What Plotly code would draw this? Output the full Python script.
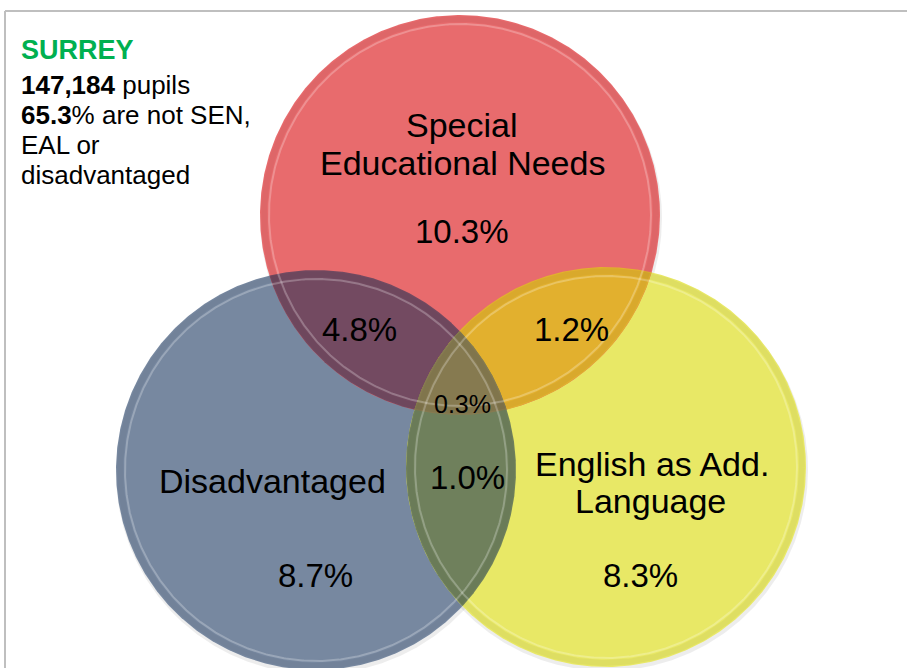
import numpy as np
import plotly.graph_objects as go

# ---- data ----
area_name = "SURREY"
total_pupils = 147184
pct_none = 65.3
set_names = ["Special Educational Needs", "Disadvantaged", "English as Add. Language"]
only_sen = 10.3
only_dis = 8.7
only_eal = 8.3
sen_dis = 4.8
sen_eal = 1.2
dis_eal = 1.0
all_three = 0.3

# ---- layout geometry (pixels) ----
W, H = 907, 668
R = 200
centers = {"sen": (460, 215), "dis": (316, 470), "eal": (606, 467)}
fill = {"sen": "#E86B6D", "dis": "#7788A0", "eal": "#E8E866"}
pair_fill = {("sen", "dis"): "#734A61", ("sen", "eal"): "#E2B02E", ("dis", "eal"): "#6F805C"}
triple_fill = "#867A50"

FONT = "Liberation Sans, Arial, sans-serif"


def circle_pts(c, r, n=720):
    t = np.linspace(0, 2 * np.pi, n)
    return c[0] + r * np.cos(t), c[1] + r * np.sin(t)


def region(keys, n=2880):
    pts = []
    for k in keys:
        cx, cy = centers[k]
        t = np.linspace(0, 2 * np.pi, n, endpoint=False)
        xs, ys = cx + R * np.cos(t), cy + R * np.sin(t)
        ok = np.ones(n, bool)
        for j in keys:
            if j == k:
                continue
            ox, oy = centers[j]
            ok &= (xs - ox) ** 2 + (ys - oy) ** 2 <= R * R + 1e-6
        pts += list(zip(xs[ok], ys[ok]))
    pts = np.array(pts)
    mx, my = pts.mean(axis=0)
    ang = np.arctan2(pts[:, 1] - my, pts[:, 0] - mx)
    pts = pts[np.argsort(ang)]
    return np.append(pts[:, 0], pts[0, 0]), np.append(pts[:, 1], pts[0, 1])


fig = go.Figure()


def add_fill(xs, ys, color, line_color=None, lw=0):
    fig.add_trace(go.Scatter(
        x=xs, y=ys, mode="lines", fill="toself", fillcolor=color,
        line=dict(width=lw, color=line_color or color),
        hoverinfo="skip", showlegend=False))


# soft shadows
for k in ["dis", "eal", "sen"]:
    c = centers[k]
    xs, ys = circle_pts((c[0] + 1, c[1] + 3), R + 1)
    add_fill(xs, ys, "rgba(0,0,0,0.07)")

# circle bodies
for k in ["dis", "eal", "sen"]:
    xs, ys = circle_pts(centers[k], R)
    add_fill(xs, ys, fill[k])

# pairwise overlaps
for (a, b), col in pair_fill.items():
    xs, ys = region([a, b])
    add_fill(xs, ys, col)

# triple overlap
xs, ys = region(["sen", "dis", "eal"])
add_fill(xs, ys, triple_fill)

# bevel rims
for k in ["dis", "eal", "sen"]:
    xs, ys = circle_pts(centers[k], R - 4)
    fig.add_trace(go.Scatter(x=xs, y=ys, mode="lines",
                             line=dict(width=6, color="rgba(0,0,0,0.04)"),
                             hoverinfo="skip", showlegend=False))
    xs, ys = circle_pts(centers[k], R - 9)
    fig.add_trace(go.Scatter(x=xs, y=ys, mode="lines",
                             line=dict(width=2, color="rgba(255,255,255,0.25)"),
                             hoverinfo="skip", showlegend=False))

# frame lines (top and left)
fig.add_shape(type="line", x0=5, y0=11, x1=W, y1=11, line=dict(color="#BFBFBF", width=2))
fig.add_shape(type="line", x0=5, y0=11, x1=5, y1=H, line=dict(color="#BFBFBF", width=2))


def label(x, y, text, size=33, anchor="center", color="black"):
    fig.add_annotation(x=x, y=y, text=text, showarrow=False, xanchor=anchor, yanchor="middle",
                       font=dict(family=FONT, size=size, color=color))


sen_lines = ["Special", "Educational Needs"]
eal_lines = ["English as Add.", "Language"]

label(462, 125, sen_lines[0], size=34)
label(462, 163, sen_lines[1], size=34)
label(462, 231, f"{only_sen:.1f}%")
label(359, 329, f"{sen_dis:.1f}%")
label(571, 329, f"{sen_eal:.1f}%")
label(462, 404, f"{all_three:.1f}%", size=25)
label(467, 477, f"{dis_eal:.1f}%")
label(272, 481, set_names[1], size=34)
label(652, 464, eal_lines[0], size=34)
label(650, 501, eal_lines[1], size=34)
label(315, 575, f"{only_dis:.1f}%")
label(640, 575, f"{only_eal:.1f}%")

# info block
label(19, 50, f"<b>{area_name}</b>", size=27, anchor="left", color="#00B050")
label(19, 85, f"<b>{total_pupils:,}</b> pupils", size=26, anchor="left")
label(19, 115, f"<b>{pct_none:.1f}</b>% are not SEN,", size=26, anchor="left")
label(19, 145, "EAL or", size=26, anchor="left")
label(19, 175, "disadvantaged", size=26, anchor="left")

fig.update_layout(
    width=W, height=H, margin=dict(l=0, r=0, t=0, b=0),
    paper_bgcolor="white", plot_bgcolor="white",
    xaxis=dict(range=[0, W], visible=False, fixedrange=True),
    yaxis=dict(range=[H, 0], visible=False, fixedrange=True),
)

fig.write_html("out.html")
